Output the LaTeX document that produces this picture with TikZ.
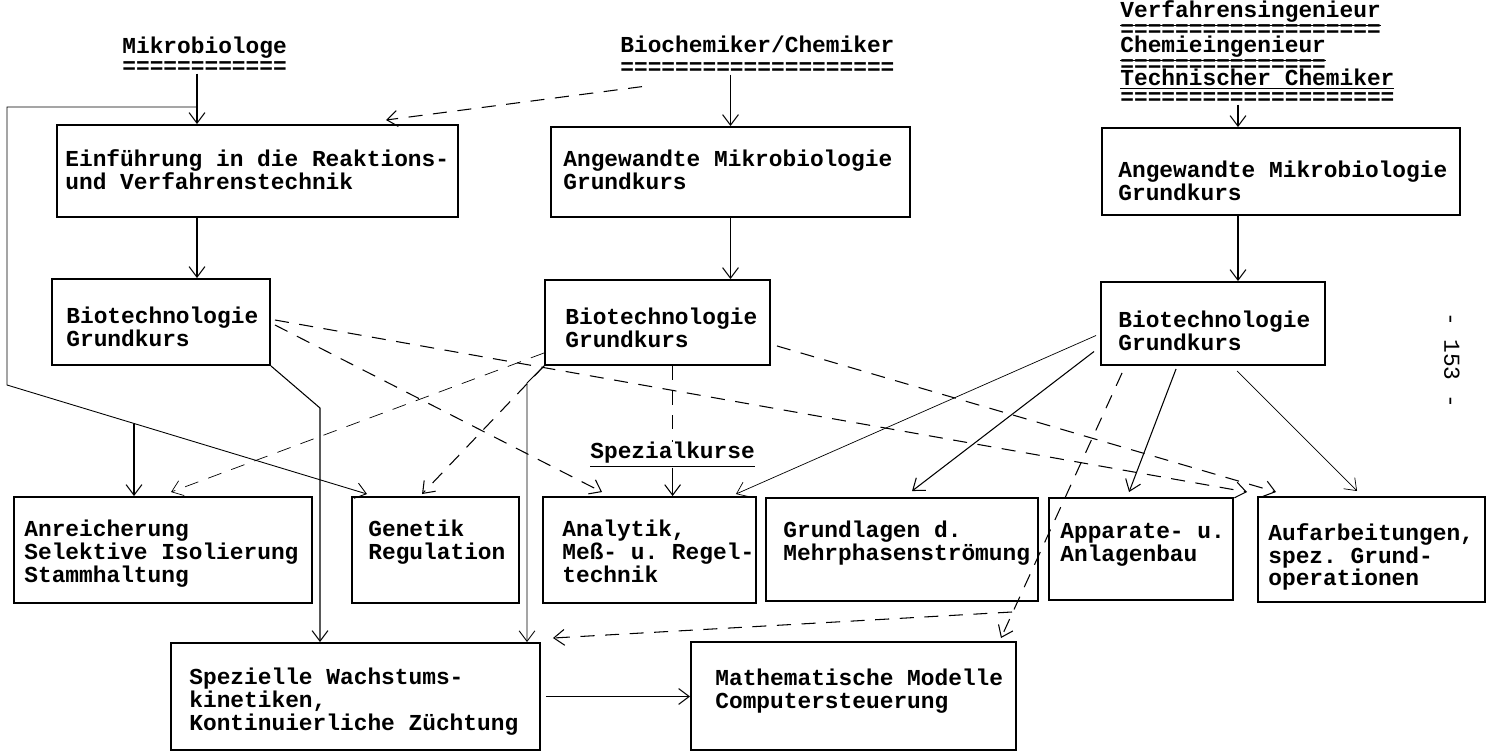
\documentclass[tikz,border=0pt]{standalone}
\usepackage{fontspec}
\setmonofont{Liberation Mono}
\usetikzlibrary{arrows.meta,fit}
\newcommand\kursfont{\ttfamily\bfseries\fontsize{13pt}{13pt}\selectfont}

\begin{document}
\begin{tikzpicture}[x=0.02cm,y=-0.02cm,
    kasten/.style={draw,line width=1.1pt,inner sep=0pt},
    txt/.style={font=\kursfont,inner sep=0pt,anchor=north west,align=left},
    kopf/.style={font=\kursfont,inner sep=0pt,anchor=base west,text depth=0pt},
    gleich/.style={font=\kursfont,inner sep=0pt,anchor=west,text height=6pt,text depth=0pt},
    pfeil/.style={-{Straight Barb[length=6pt,width=9pt]},line width=0.6pt},
    strich/.style={dash pattern=on 8pt off 6pt}]
    \useasboundingbox (0,0) rectangle (1494,753);

    % Studienrichtungen
    \node[kopf] (mikro) at (122,54) {Mikrobiologe};
    \node[gleich] (mikro-u) at (122,68) {============};
    \node[kopf] (chem) at (620,53) {Biochemiker/Chemiker};
    \node[gleich] (chem-u) at (620,69) {====================};
    \node[kopf] (vi) at (1120,18) {\underline{Verfahrensingenieur}};
    \node[gleich] (vi-u) at (1120,31) {===================};
    \node[kopf] (ci) at (1120,53) {\underline{Chemieingenieur}};
    \node[gleich] (ci-u) at (1120,66) {===============};
    \node[kopf] (tc) at (1120,86) {\underline{Technischer Chemiker}};
    \node[gleich] (tc-u) at (1120,99) {====================};

    % Kaesten
    \foreach \n/\xa/\ya/\xb/\yb in {einf/57/125/458/217, ang1/551/127/910/217,
        ang2/1102/128/1460/215, bio1/52/279/270/365, bio2/545/280/770/365,
        bio3/1101/282/1325/365, anr/14/497/312/603, gen/352/497/519/603,
        ana/543/497/756/603, grund/766/498/1038/601, app/1049/498/1233/600,
        auf/1258/497/1485/602, spez/171/643/540/750, mathe/691/642/1016/750}
        \node[kasten,fit={(\xa,\ya) (\xb,\yb)}] (\n) {};

    \node[txt] (einf-t) at (65,149) {Einführung in die Reaktions-\\und Verfahrenstechnik};
    \node[txt] (ang1-t) at (563,150) {Angewandte Mikrobiologie\\Grundkurs};
    \node[txt] (ang2-t) at (1118,161) {Angewandte Mikrobiologie\\Grundkurs};
    \node[txt] (bio1-t) at (66,307) {Biotechnologie\\Grundkurs};
    \node[txt] (bio2-t) at (565,308) {Biotechnologie\\Grundkurs};
    \node[txt] (bio3-t) at (1118,311) {Biotechnologie\\Grundkurs};
    \node[txt] (anr-t) at (24,520) {Anreicherung\\Selektive Isolierung\\Stammhaltung};
    \node[txt] (gen-t) at (368,520) {Genetik\\Regulation};
    \node[txt] (ana-t) at (562,520) {Analytik,\\Meß- u. Regel-\\technik};
    \node[txt] (grund-t) at (783,521) {Grundlagen d.\\Mehrphasenströmung};
    \node[txt] (app-t) at (1060,523) {Apparate- u.\\Anlagenbau};
    \node[txt] (auf-t) at (1268,523) {Aufarbeitungen,\\spez. Grund-\\operationen};
    \node[txt] (spez-t) at (189,668) {Spezielle Wachstums-\\kinetiken,\\Kontinuierliche Züchtung};
    \node[txt] (mathe-t) at (715,669) {Mathematische Modelle\\Computersteuerung};

    \node[txt] (sk) at (590,442) {\underline{Spezialkurse}};
    \node[font=\ttfamily\fontsize{13pt}{13pt}\selectfont,rotate=-90] (seite) at (1452,360) {- 153 -};

    % Knickpunkte
    \coordinate (knick) at (197,107);
    \coordinate (links) at (7,385);
    \coordinate (abzw) at (134,424);
    \coordinate (k2) at (320,408);
    \coordinate (k3) at (527,383);
    \coordinate (rx) at (1238,0);
    \coordinate (gabel) at (1012,612);

    % linke Spalte
    \draw[pfeil] (mikro-u.south -| knick) -- (einf.north -| knick);
    \draw[pfeil,line width=0.5pt] (knick) -| (links) -- ([shift={(16,-2)}]gen.north west);
    \draw[pfeil] (abzw) -- (abzw |- anr.north);
    \draw[pfeil] (einf.south -| knick) -- (bio1.north -| knick);
    \draw[pfeil] (bio1.south east) -- (k2) -- (k2 |- spez.north);
    \draw[pfeil,strich] ([shift={(4,-2)}]bio1.east) -- ([shift={(-10,-4)}]auf.north west);
    \draw[pfeil,strich] ([shift={(4,3)}]bio1.east) -- ([shift={(60,-4)}]ana.north west);

    % mittlere Spalte
    \draw[pfeil] (chem-u.south -| ang1.north) -- (ang1.north);
    \draw[pfeil,strich] ([shift={(22,12)}]chem-u.south west) -- ([shift={(-73,-4)}]einf.north east);
    \draw[pfeil] (ang1.south) -- (ang1.south |- bio2.north);
    \draw[pfeil,strich,line width=0.4pt] ([shift={(0,-13)}]bio2.south west) -- ([shift={(158,-4)}]anr.north west);
    \draw[pfeil,strich] (bio2.south west) -- ([shift={(71,-2)}]gen.north west);
    \draw[pfeil,line width=0.5pt] (bio2.south west) -- (k3) -- (k3 |- spez.north);
    \draw[strich] (sk.north |- bio2.south) -- (sk.north);
    \draw[pfeil] (sk.south) -- (sk.south |- ana.north);
    \draw[pfeil,strich] ([shift={(6,-20)}]bio2.south east) -- ([shift={(19,-4)}]auf.north west);

    % rechte Spalte
    \draw[pfeil] (tc-u.south -| rx) -- (ang2.north -| rx);
    \draw[pfeil] (ang2.south -| rx) -- (bio3.north -| rx);
    \draw[pfeil,line width=0.4pt] ([shift={(-4,12)}]bio3.west) -- ([shift={(-21,-2)}]ana.north east);
    \draw[pfeil] ([shift={(-6,28)}]bio3.west) -- ([shift={(147,-6)}]grund.north west);
    \draw[pfeil,strich] ([shift={(22,7)}]bio3.south west) -- ([shift={(-16,-3)}]mathe.north east);
    \draw[pfeil] ([shift={(76,3)}]bio3.south west) -- ([shift={(81,-5)}]app.north west);
    \draw[pfeil,line width=0.4pt] ([shift={(137,5)}]bio3.south west) -- ([shift={(100,-5)}]auf.north west);

    % untere Reihe
    \draw[pfeil,strich] (gabel) -- ([shift={(12,-4)}]spez.north east);
    \draw[pfeil] ([shift={(5,0)}]spez.east) -- (mathe.west |- spez.east);
\end{tikzpicture}
\end{document}
